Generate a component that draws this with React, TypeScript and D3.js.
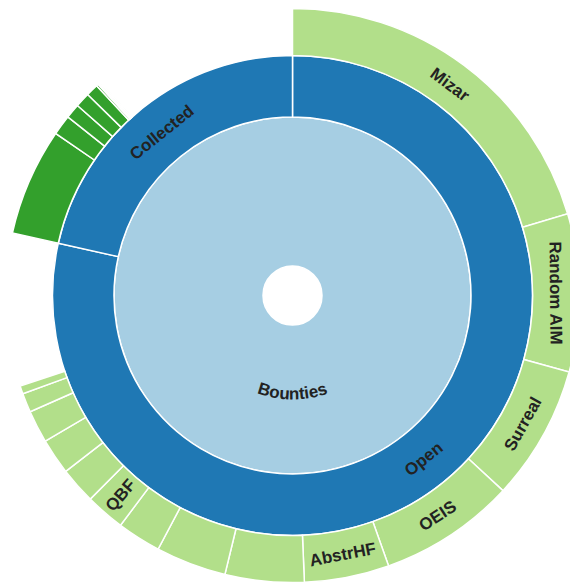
import React, { useMemo } from "react";
import * as d3 from "d3";

// ---- data ----
const rootName = "Bounties";
const groupNames = ["Open", "Collected"];
const groupOwnValues = [31, 42];
const openNames = ["Mizar", "Random AIM", "Surreal", "OEIS", "AbstrHF", "", "", "", "QBF", "", "", "", "", ""];
const openValues = [73.5, 32, 27.4, 27.6, 17.2, 16, 14.3, 8.9, 8, 7.4, 7.3, 6.6, 3.9, 1.6];
const collectedNames = ["", "", "", "", "", "", "", "", ""];
const collectedValues = [21.8, 4.1, 3, 3, 2.5, 0.4, 0.3, 0.2, 0.15];

// ---- layout / style ----
const W = 570;
const H = 584;
const CX = 292.5;
const CY = 295.5;
const ringRadii = [29.5, 178.5, 240, 287];
const rootColor = "#a6cee3";
const groupColor = "#1f78b4";
const leafColors: Record<string, string> = { Open: "#b2df8a", Collected: "#33a02c" };
const FONT = 17;
const FONT_FAMILY = "'Liberation Sans', Arial, sans-serif";
const TEXT_COLOR = "#222";

type Datum = { name: string; value?: number; children?: Datum[] };

function buildData(): Datum {
  const leaves = [
    openNames.map((n, i) => ({ name: n, value: openValues[i] })),
    collectedNames.map((n, i) => ({ name: n, value: collectedValues[i] })),
  ];
  return {
    name: rootName,
    children: groupNames.map((g, i) => ({ name: g, value: groupOwnValues[i], children: leaves[i] })),
  };
}

export default function App() {
  const nodes = useMemo(() => {
    const root = d3.hierarchy<Datum>(buildData()).sum((d) => d.value || 0);
    d3.partition<Datum>().size([2 * Math.PI, 3])(root);
    return root.descendants() as d3.HierarchyRectangularNode<Datum>[];
  }, []);

  const arc = d3
    .arc<d3.HierarchyRectangularNode<Datum>>()
    .startAngle((d) => d.x0)
    .endAngle((d) => d.x1)
    .innerRadius((d) => ringRadii[d.depth])
    .outerRadius((d) => ringRadii[d.depth + 1]);

  const fill = (d: d3.HierarchyRectangularNode<Datum>) => {
    if (d.depth === 0) return rootColor;
    if (d.depth === 1) return groupColor;
    return leafColors[d.parent!.data.name];
  };

  const rootR = (ringRadii[0] + ringRadii[1]) / 2;

  const labels = nodes
    .filter((d) => d.depth > 0 && d.data.name)
    .map((d, i) => {
      const a = (d.x0 + d.x1) / 2;
      const aDeg = (a * 180) / Math.PI;
      const r = (ringRadii[d.depth] + ringRadii[d.depth + 1]) / 2;
      const depthW = ringRadii[d.depth + 1] - ringRadii[d.depth];
      const arcLen = r * (d.x1 - d.x0);
      const textW = d.data.name.length * 0.62 * FONT;
      const textH = FONT * 0.75;
      const tang = Math.min(arcLen / textW, depthW / textH);
      const rad = Math.min(depthW / textW, arcLen / textH);
      let rot: number;
      if (tang >= rad) {
        rot = aDeg > 90 && aDeg < 270 ? aDeg - 180 : aDeg;
      } else {
        rot = aDeg > 180 ? aDeg - 270 : aDeg - 90;
      }
      const x = CX + r * Math.sin(a);
      const y = CY - r * Math.cos(a);
      return { key: i, x, y, rot, text: d.data.name };
    });

  const rootPath = `M${CX - rootR},${CY} A${rootR},${rootR} 0 0 0 ${CX + rootR},${CY}`;

  return (
    <svg
      width={W}
      height={H}
      style={{ position: "absolute", left: 0, top: 0, display: "block" }}
    >
      <defs>
        <path id="rootLabelPath" d={rootPath} />
      </defs>
      <g transform={`translate(${CX},${CY})`}>
        {nodes.map((d, i) => (
          <path key={i} d={arc(d) || ""} fill={fill(d)} stroke="#fff" strokeWidth={1.5} />
        ))}
      </g>
      <g fontFamily={FONT_FAMILY} fontWeight="bold" fontSize={FONT} fill={TEXT_COLOR}>
        <text>
          <textPath href="#rootLabelPath" startOffset="50%" textAnchor="middle">
            {rootName}
          </textPath>
        </text>
        {labels.map((l) => (
          <text
            key={l.key}
            transform={`translate(${l.x},${l.y}) rotate(${l.rot})`}
            textAnchor="middle"
            dy="0.35em"
          >
            {l.text}
          </text>
        ))}
      </g>
    </svg>
  );
}
